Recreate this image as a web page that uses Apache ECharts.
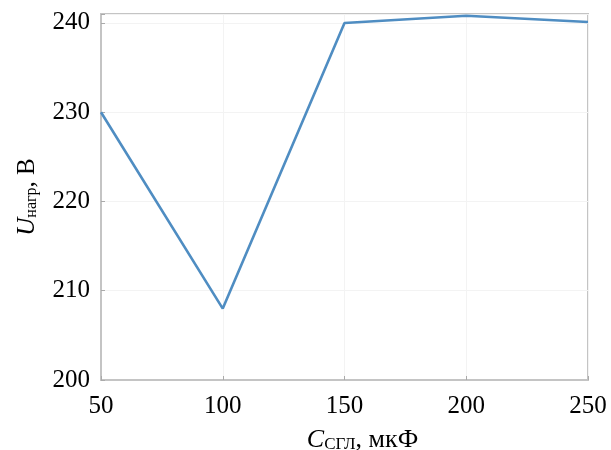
<!DOCTYPE html>
<html>
<head>
<meta charset="utf-8">
<script src="https://cdn.jsdelivr.net/npm/echarts@6/dist/echarts.min.js"></script>
<style>html,body{margin:0;padding:0;background:#fff}#c{width:611px;height:450px}</style>
</head>
<body>
<div id="c"></div>
<script>
const capacitance = [50, 100, 150, 200, 250];
const voltage = [230, 208, 240, 240.8, 240.1];
const xTicks = [50, 100, 150, 200, 250];
const yTicks = [200, 210, 220, 230, 240];

const chart = echarts.init(document.getElementById('c'), null, {renderer: 'canvas'});
const font = 'Liberation Serif';
const boxColor = '#c4c4c4';
chart.setOption({
  animation: false,
  backgroundColor: '#fff',
  grid: {left: 101, right: 23, top: 14, bottom: 70, show: true, borderColor: boxColor, borderWidth: 2,
    containLabel: false, outerBoundsMode: 'none'},
  xAxis: {
    type: 'value', min: 50, max: 250, interval: 50,
    axisLine: {show: true, lineStyle: {color: boxColor, width: 2}},
    axisTick: {show: true, inside: true, length: 4, lineStyle: {color: '#aaa'}},
    axisLabel: {color: '#000', fontFamily: font, fontSize: 25, margin: 14,
      formatter: v => xTicks.includes(v) ? String(v) : ''},
    splitLine: {show: true, lineStyle: {color: '#f3f3f3', width: 1}},
    name: '{i|C}{s|СГЛ}{n|, мкФ}',
    nameLocation: 'middle', nameGap: 47,
    nameTextStyle: {padding: [0, 0, 0, 36], rich: {
      i: {fontFamily: font, fontStyle: 'italic', fontSize: 26, color: '#000'},
      s: {fontFamily: font, fontSize: 17, color: '#000', padding: [9, 0, 0, 0]},
      n: {fontFamily: font, fontSize: 26, color: '#000'}
    }}
  },
  yAxis: {
    type: 'value', min: 200, max: 241, interval: 10,
    axisLine: {show: true, lineStyle: {color: boxColor, width: 2}},
    axisTick: {show: true, inside: true, length: 4, lineStyle: {color: '#aaa'}},
    axisLabel: {color: '#000', fontFamily: font, fontSize: 25, margin: 11,
      formatter: v => yTicks.includes(v) ? String(v) : ''},
    splitLine: {show: true, lineStyle: {color: '#f3f3f3', width: 1}},
    name: '{i|U}{s|нагр}{n|, В}',
    nameLocation: 'middle', nameGap: 61, nameRotate: 90,
    nameTextStyle: {rich: {
      i: {fontFamily: font, fontStyle: 'italic', fontSize: 25, color: '#000'},
      s: {fontFamily: font, fontSize: 16, color: '#000', padding: [9, 0, 0, 0]},
      n: {fontFamily: font, fontSize: 25, color: '#000'}
    }}
  },
  series: [{
    type: 'line',
    data: capacitance.map((x, i) => [x, voltage[i]]),
    showSymbol: false,
    lineStyle: {color: '#4f8dc2', width: 2.6},
    clip: false
  }]
});
</script>
</body>
</html>
